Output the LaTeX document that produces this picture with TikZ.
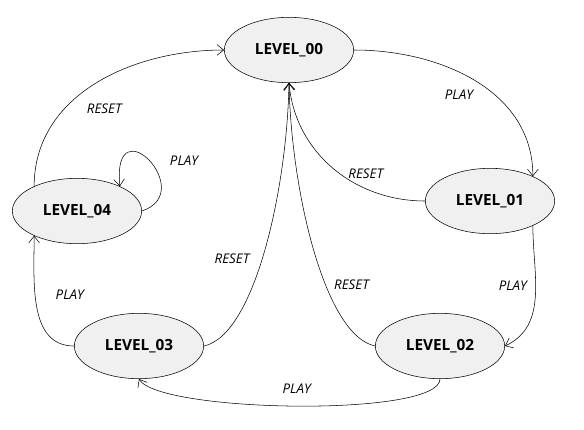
\documentclass[tikz,border=0pt]{standalone}
\usepackage{fontspec}
\setmainfont{Open Sans}
\usepackage{tikz}
\usetikzlibrary{positioning, arrows.meta, shapes.geometric}
\definecolor{stategray}{HTML}{F0F0F0}

\tikzset{
  state/.style={ellipse, draw=black, fill=stategray, minimum width=97pt, minimum height=49pt,
    inner sep=0pt, font=\fontsize{11.5}{14}\selectfont\bfseries},
  trans/.style={font=\fontsize{10}{12}\selectfont\itshape},
}

\begin{document}
\begin{tikzpicture}[x=0.75pt, y=-0.75pt, >={Straight Barb[length=5pt,width=8pt]}, thin]
\useasboundingbox (0,0) rectangle (584,429);
% nodes
\node[state] (Lv00) at (289,50)  {LEVEL\_00};
\node[state] (Lv01) at (490,201) {LEVEL\_01};
\node[state] (Lv02) at (440,346) {LEVEL\_02};
\node[state] (Lv03) at (139,346) {LEVEL\_03};
\node[state] (Lv04) at (77,211)  {LEVEL\_04};

% arrows
\draw[->] (Lv04.150) to[out=90, in=180] node[trans, pos=0.42, below right=4pt] {RESET} (Lv00.west);
\draw[->] (Lv00.east) to[out=0, in=90] node[trans, pos=0.52, below left=2pt] {PLAY} (Lv01.30);
\draw[->] (Lv01.west) to[out=180, in=-85] node[trans, pos=0.3, above=4pt] {RESET} (Lv00.south);
\draw[->] (Lv01.-30) to[out=-90, in=25] node[trans, pos=0.42, left=3pt] {PLAY} (Lv02.east);
\draw[->] (Lv02.west) .. controls +(-51,-11) and +(2,106) .. node[trans, pos=0.38, right=3pt] {RESET} (Lv00.south);
\draw[->] (Lv03.east) .. controls +(51,-11) and +(-2,106) .. node[trans, pos=0.47, left=6pt] {RESET} (Lv00.south);
\draw[->] (Lv02.south) to[out=-90, in=-60, looseness=0.33] node[trans, pos=0.5, above=6pt] {PLAY} (Lv03.south);
\draw[->] (Lv03.west) to[out=180, in=-90] node[trans, pos=0.6, right=12pt] {PLAY} (Lv04.210);
\draw[->] (Lv04.east) .. controls +(57,-19) and +(-8,-83) .. node[trans, pos=0.5, right=12pt] {PLAY} (Lv04.30);
\end{tikzpicture}
\end{document}
